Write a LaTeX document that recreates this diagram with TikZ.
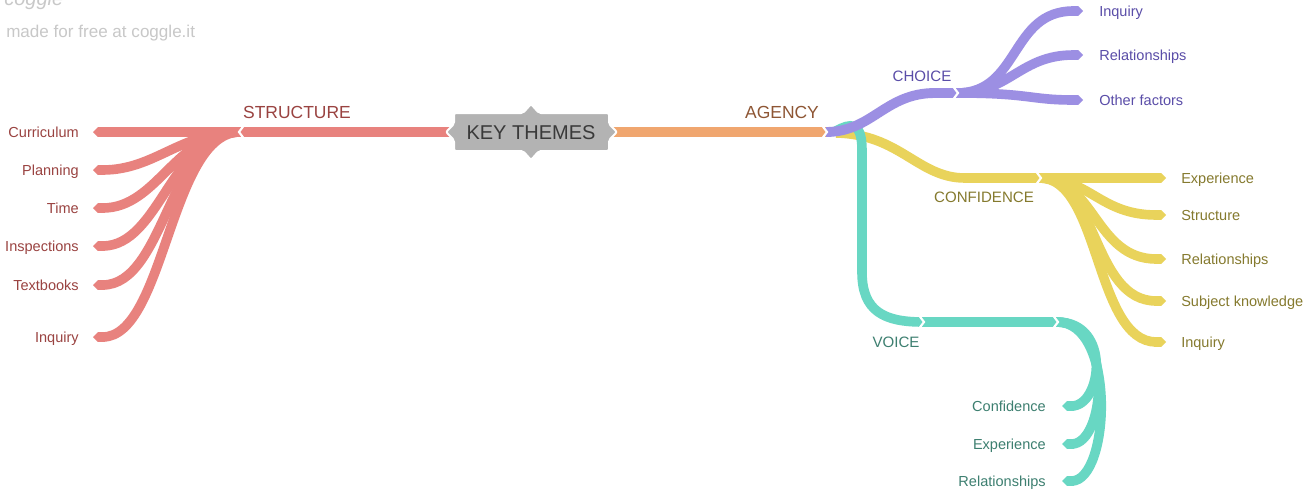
\documentclass[tikz,border=0pt]{standalone}
\usepackage{fontspec}
\setmainfont{Liberation Sans}
\usetikzlibrary{arrows.meta}
\definecolor{cred}{HTML}{E8827E}
\definecolor{tred}{HTML}{9A4341}
\definecolor{corange}{HTML}{F0A66F}
\definecolor{torange}{HTML}{8E5634}
\definecolor{cpurple}{HTML}{9C8FE3}
\definecolor{tpurple}{HTML}{5A4DA8}
\definecolor{cyellow}{HTML}{E9D35B}
\definecolor{tyellow}{HTML}{857A2E}
\definecolor{cteal}{HTML}{68D7C3}
\definecolor{tteal}{HTML}{3D7F70}
\definecolor{boxgray}{HTML}{B3B3B3}
\definecolor{boxtext}{HTML}{3A3A3A}
\definecolor{logogray}{HTML}{C8C8C8}
\tikzset{
  trunk/.style={line width=7.8pt, line cap=butt},
  leafline/.style={line width=7.2pt, line cap=butt, -{Triangle Cap[]}},
  leaftext/.style={font=\fontsize{10.9pt}{13pt}\selectfont, inner sep=0pt},
  midtext/.style={font=\fontsize{11.3pt}{13pt}\selectfont, inner sep=0pt},
  bigtext/.style={font=\fontsize{13.1pt}{15pt}\selectfont, inner sep=0pt},
  chevr/.pic={\draw[white, line width=1.6pt, line cap=butt, line join=miter] (-5,-8) -- (1,0) -- (-5,8);},
  chevl/.pic={\draw[white, line width=1.6pt, line cap=butt, line join=miter] (5,-8) -- (-1,0) -- (5,8);}
}
\begin{document}
\begin{tikzpicture}[x=0.75pt, y=-0.75pt]
\fill[white] (0,0) rectangle (1304,490);
\useasboundingbox (0,0) rectangle (1304,490);

% logo
\node[anchor=base west, inner sep=0pt, text=logogray, font=\itshape\fontsize{15pt}{15pt}\selectfont] (logo) at (4,5) {coggle};
\node[anchor=base west, inner sep=0pt, text=logogray, font=\fontsize{12.8pt}{15pt}\selectfont] (made) at (6,37) {made for free at coggle.it};

% ---------- left: STRUCTURE ----------
\coordinate (sj) at (240,132);
\coordinate (bl) at (450,132);
\coordinate (l1) at (93,132);
\coordinate (l2) at (93,170);
\coordinate (l3) at (93,208);
\coordinate (l4) at (93,246);
\coordinate (l5) at (93,285);
\coordinate (l6) at (93,337);
\draw[trunk, cred] (bl) -- (sj);
\draw[leafline, cred] (sj) .. controls (170,132) and (165,337) .. (l6);
\draw[leafline, cred] (sj) .. controls (170,132) and (165,285) .. (l5);
\draw[leafline, cred] (sj) .. controls (172,132) and (160,246) .. (l4);
\draw[leafline, cred] (sj) .. controls (175,132) and (158,208) .. (l3);
\draw[leafline, cred] (sj) .. controls (180,132) and (155,170) .. (l2);
\draw[leafline, cred] (sj) -- (l1);
\pic at (sj) {chevl};
\node[bigtext, text=tred] (structure) at (297,112) {STRUCTURE};
\node[leaftext, text=tred, anchor=base east] (curriculum) at (79,137) {Curriculum};
\node[leaftext, text=tred, anchor=base east] (planning) at (79,175) {Planning};
\node[leaftext, text=tred, anchor=base east] (time) at (79,213) {Time};
\node[leaftext, text=tred, anchor=base east] (inspections) at (79,251) {Inspections};
\node[leaftext, text=tred, anchor=base east] (textbooks) at (79,290) {Textbooks};
\node[leaftext, text=tred, anchor=base east] (inquiryl) at (79,342) {Inquiry};

% ---------- right: AGENCY ----------
\coordinate (br) at (612,132);
\coordinate (ag) at (826,132);
\draw[trunk, corange] (br) -- (ag);
\node[bigtext, text=torange] (agency) at (782,112) {AGENCY};

% CONFIDENCE (yellow)
\coordinate (cf) at (1040,178);
\coordinate (y1) at (1166,178);
\coordinate (y2) at (1166,215);
\coordinate (y3) at (1166,259);
\coordinate (y4) at (1166,301);
\coordinate (y5) at (1166,342);
\draw[trunk, cyellow, line width=7.2pt] (836,133) .. controls (900,134) and (918,178) .. (965,178) -- (cf);
\draw[leafline, cyellow] (cf) .. controls (1100,178) and (1095,342) .. (y5);
\draw[leafline, cyellow] (cf) .. controls (1098,178) and (1092,301) .. (y4);
\draw[leafline, cyellow] (cf) .. controls (1095,178) and (1095,259) .. (y3);
\draw[leafline, cyellow] (cf) .. controls (1090,178) and (1100,215) .. (y2);
\draw[leafline, cyellow] (cf) -- (y1);
\pic at (cf) {chevr};
\node[midtext, text=tyellow] (confidence) at (984,197) {CONFIDENCE};
\node[leaftext, text=tyellow, anchor=base west] (experiencey) at (1181,183) {Experience};
\node[leaftext, text=tyellow, anchor=base west] (structurey) at (1181,220) {Structure};
\node[leaftext, text=tyellow, anchor=base west] (relationshipsy) at (1181,264) {Relationships};
\node[leaftext, text=tyellow, anchor=base west] (subject) at (1181,306) {Subject knowledge};
\node[leaftext, text=tyellow, anchor=base west] (inquiryy) at (1181,347) {Inquiry};

% VOICE (teal)
\coordinate (vs) at (836,131);
\coordinate (vo) at (923,322);
\coordinate (vj) at (1057,322);
\coordinate (t1) at (1062,406);
\coordinate (t2) at (1062,444);
\coordinate (t3) at (1062,481);
\draw[trunk, cteal, line width=7.2pt] (vs) .. controls (850,123) and (862,121) .. (862,150) -- (862,272) .. controls (862,312) and (885,322) .. (vo) -- (vj);
\draw[leafline, cteal] (vj) .. controls (1117,322) and (1110,481) .. (t3);
\draw[leafline, cteal] (vj) .. controls (1114,322) and (1106,444) .. (t2);
\draw[leafline, cteal] (vj) .. controls (1112,322) and (1102,406) .. (t1);
\pic at (vo) {chevr};
\pic at (vj) {chevr};
\node[midtext, text=tteal] (voice) at (896,342) {VOICE};
\node[leaftext, text=tteal, anchor=base east] (confidencet) at (1046,411) {Confidence};
\node[leaftext, text=tteal, anchor=base east] (experiencet) at (1046,449) {Experience};
\node[leaftext, text=tteal, anchor=base east] (relationshipst) at (1046,486) {Relationships};

% CHOICE (purple)
\coordinate (ch) at (957,93);
\coordinate (p1) at (1083,11);
\coordinate (p2) at (1083,55);
\coordinate (p3) at (1083,100);
\draw[trunk, cpurple, line width=7.4pt] (ag) .. controls (872,132) and (885,93) .. (935,93) -- (ch);
\draw[leafline, cpurple] (ch) .. controls (1020,93) and (1010,11) .. (p1);
\draw[leafline, cpurple] (ch) .. controls (1010,93) and (1020,55) .. (p2);
\draw[leafline, cpurple] (ch) .. controls (1030,93) and (1030,100) .. (p3);
\pic at (ch) {chevr};
\pic at (ag) {chevr};
\node[midtext, text=tpurple] (choice) at (922,76) {CHOICE};
\node[leaftext, text=tpurple, anchor=base west] (inquiryp) at (1099,16) {Inquiry};
\node[leaftext, text=tpurple, anchor=base west] (relationshipsp) at (1099,60) {Relationships};
\node[leaftext, text=tpurple, anchor=base west] (otherp) at (1099,105) {Other factors};

% ---------- KEY THEMES box ----------
\filldraw[fill=boxgray, draw=white, line width=1.5pt, rounded corners=1.5pt]
  (454,113) -- (523,113) -- (531,104) -- (539,113) -- (609,113) -- (609,124) -- (617,132) -- (609,140)
  -- (609,151) -- (539,151) -- (531,160) -- (523,151) -- (454,151) -- (454,140) -- (446,132) -- (454,124) -- cycle;
\node[inner sep=0pt, text=boxtext, font=\fontsize{15pt}{17pt}\selectfont, anchor=base] (kt) at (531,139) {KEY THEMES};
\end{tikzpicture}
\end{document}
